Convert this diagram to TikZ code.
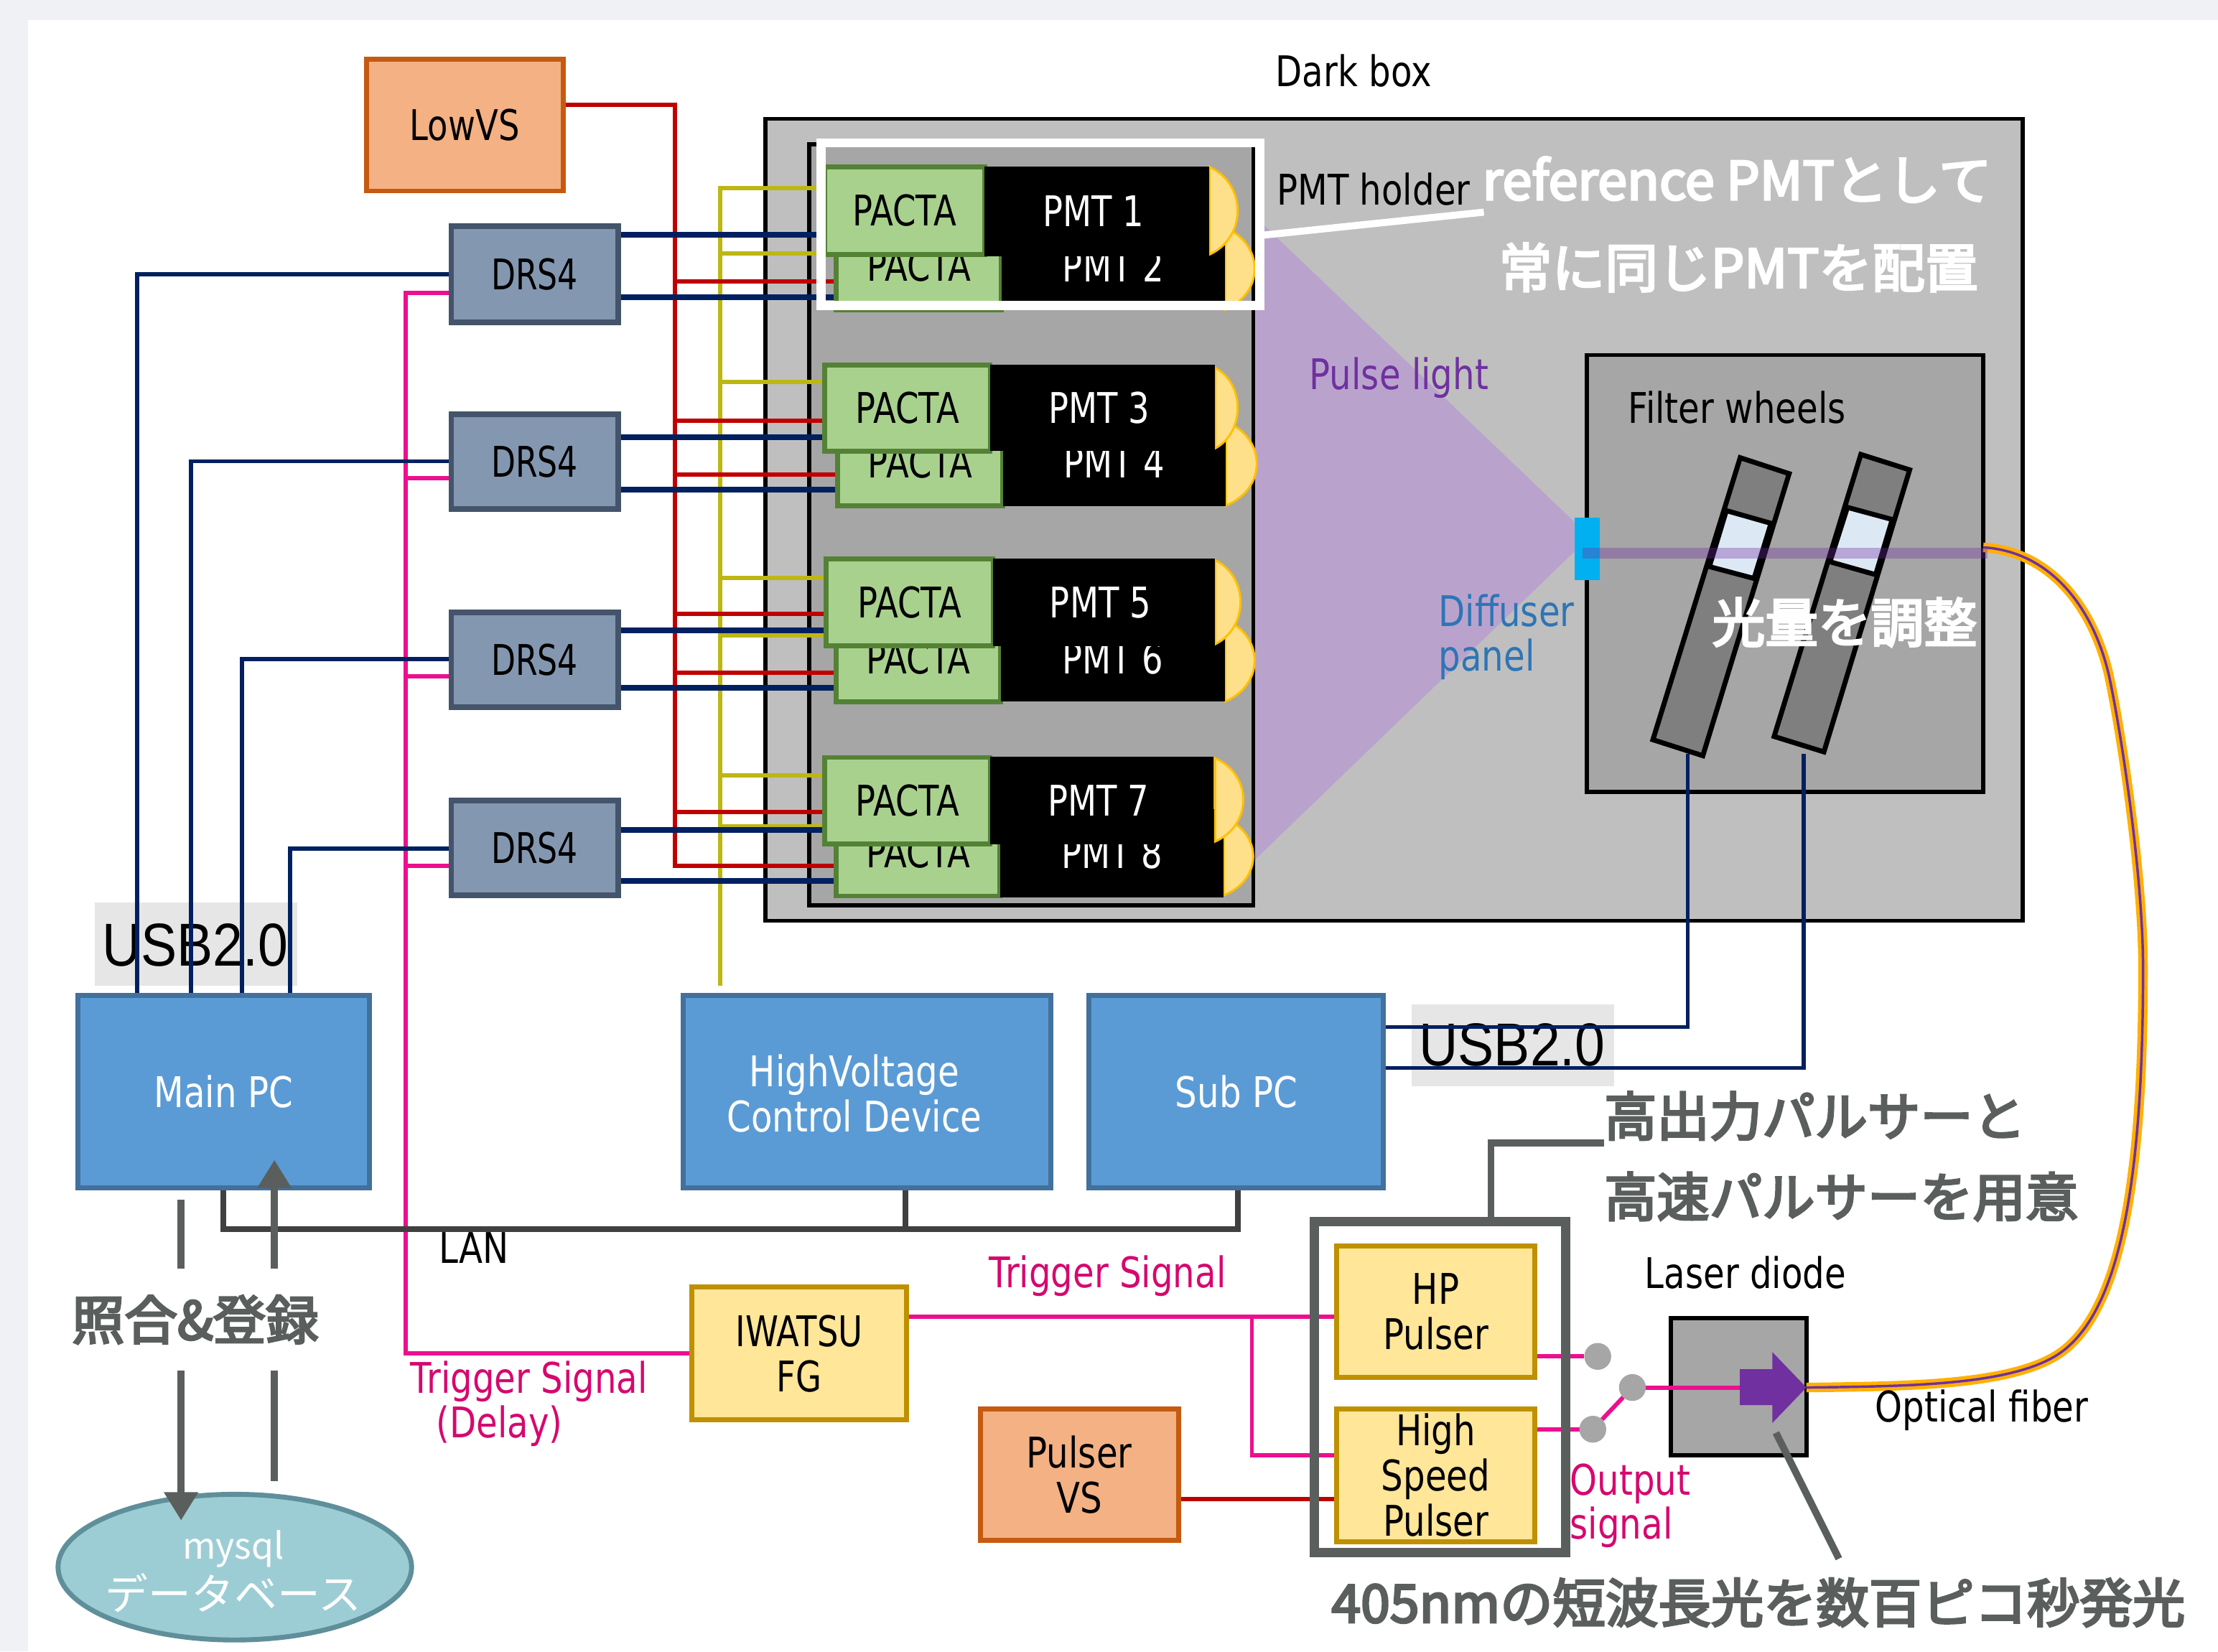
\documentclass[tikz,border=0pt]{standalone}
\usepackage{fontspec}
\setmainfont{DejaVu Sans}[FakeStretch=0.82]
\newfontfamily\narrowfont{DejaVu Sans}[FakeStretch=0.79]
\newfontfamily\drsfont{DejaVu Sans}[FakeStretch=0.75]
\newfontfamily\cjk{Noto Sans CJK JP}
\newfontfamily\cjkm{Noto Sans CJK JP}[FakeBold=4]
\newfontfamily\usbfont{Liberation Sans}[FakeStretch=0.89]
\usetikzlibrary{arrows.meta,shapes.geometric}
\pgfdeclarelayer{base}\pgfdeclarelayer{lines}\pgfdeclarelayer{top}
\pgfsetlayers{base,lines,main,top}
\definecolor{cred}{HTML}{C00000}
\definecolor{cblue}{HTML}{002060}
\definecolor{cyel}{HTML}{BDB714}
\definecolor{cpink}{HTML}{EC0F8F}
\definecolor{ctext}{HTML}{D6086F}
\definecolor{cgray}{HTML}{5A5F5E}
\definecolor{cpurple}{HTML}{7030A0}
\definecolor{hC55A11}{HTML}{C55A11}\definecolor{hF4B183}{HTML}{F4B183}
\definecolor{h44546A}{HTML}{44546A}\definecolor{h8497B0}{HTML}{8497B0}
\definecolor{h41719C}{HTML}{41719C}\definecolor{h5B9BD5}{HTML}{5B9BD5}
\definecolor{hBF9000}{HTML}{BF9000}\definecolor{hFFE699}{HTML}{FFE699}
\definecolor{h548235}{HTML}{548235}\definecolor{hA9D18E}{HTML}{A9D18E}
\definecolor{hFFC000}{HTML}{FFC000}\definecolor{hFFE08A}{HTML}{FFE08A}
\definecolor{h404040}{HTML}{404040}\definecolor{hA6A6A6}{HTML}{A6A6A6}
\definecolor{h7F7F7F}{HTML}{7F7F7F}\definecolor{hDDE8F5}{HTML}{DDE8F5}
\definecolor{hBFBFBF}{HTML}{BFBFBF}\definecolor{hE6E6E6}{HTML}{E6E6E6}
\definecolor{hpage}{HTML}{EFF1F5}\definecolor{hcone}{HTML}{B9A3CC}
\definecolor{hcyan}{HTML}{00B0F0}\definecolor{hfiber}{HTML}{FFB000}
\definecolor{hdiff}{HTML}{2E75B6}\definecolor{hdbline}{HTML}{5F8F9A}\definecolor{hdbfill}{HTML}{9DCDD4}
\tikzset{
 x=0.02cm,y=-0.02cm,
 ext/.style n args={4}{minimum width={(#3-#1)*0.02cm},minimum height={(#4-#2)*0.02cm},at={({(#1+#3)/2},{(#2+#4)/2})}},
 every node/.style={inner sep=0pt,outer sep=0pt,align=center,font=\fontsize{17}{18.2}\selectfont},
 narrowtext/.style={font=\fontsize{17}{18.2}\narrowfont},
 orangebox/.style={rectangle,draw=hC55A11,fill=hF4B183,line width=.07cm},
 drsbox/.style={rectangle,draw=h44546A,fill=h8497B0,line width=.08cm,font=\fontsize{17}{18.2}\drsfont},
 pcbox/.style={rectangle,draw=h41719C,fill=h5B9BD5,line width=.07cm,text=white},
 yelbox/.style={rectangle,draw=hBF9000,fill=hFFE699,line width=.07cm},
 pactabox/.style={rectangle,draw=h548235,fill=hA9D18E,line width=.07cm,narrowtext},
 pmtbox/.style={rectangle,fill=black,text=white,narrowtext},
 darkbox/.style={rectangle,draw=black,line width=.06cm},
 lensstyle/.style={draw=hFFC000,fill=hFFE08A,line width=.03cm},
 redw/.style={draw=cred,line width=.06cm},
 bluethin/.style={draw=cblue,line width=.055cm},
 bluethick/.style={draw=cblue,line width=.08cm},
 yelw/.style={draw=cyel,line width=.06cm},
 pinkw/.style={draw=cpink,line width=.06cm},
 lanw/.style={draw=h404040,line width=.08cm},
 leader/.style={draw=cgray,line width=.1cm},
 whiteleader/.style={draw=white,line width=.1cm},
 thickarrow/.style={draw=cgray,line width=.1cm,-{Triangle[width=.46cm,length=.4cm]}},
 note/.style={font=\fontsize{21.2}{24}\cjkm,text=cgray},
 whitenote/.style={font=\fontsize{21.3}{24}\cjkm,text=white},
 usbtext/.style={font=\fontsize{24.4}{26}\usbfont},
 pinklabel/.style={text=ctext},
 sw/.style={circle,fill=hA6A6A6,minimum size=.38cm},
 filterstrip/.style={draw=black,fill=h7F7F7F,line width=.07cm},
 filterband/.style={draw=black,fill=hDDE8F5,line width=.07cm},
}
\newcommand{\lensshape}[4]{\draw[lensstyle] (#1,#2) .. controls ({#1+1.33*#3},{#2+.2*(#4-#2)}) and ({#1+1.33*#3},{#2+.8*(#4-#2)}) .. (#1,#4) -- cycle;}
\begin{document}
\begin{tikzpicture}
\useasboundingbox (0,0) rectangle (1568,1167.5);
\begin{pgfonlayer}{base}
 \fill[hpage] (0,0) rectangle (1568,1167.5);
 \fill[white] (20,14) rectangle (1568,1167.5);
 \node[darkbox,fill=hBFBFBF,ext={541}{84}{1430}{651}] (dark) {};
 \fill[hcone] (886,152) -- (1113,369) -- (1113,390) -- (886,609) -- cycle;
 \node[darkbox,fill=hA6A6A6,ext={572}{102}{886}{640}] (holder) {};
 \node[darkbox,fill=hA6A6A6,ext={1122}{251}{1402}{560}] (filter) {};
 \draw[filterstrip] (1230.2,323.6) -- (1264.8,334.9) -- (1203.8,534.3) -- (1168.5,523) -- cycle;
 \draw[filterband] (1220.4,361) -- (1252,370) -- (1240,409) -- (1208.4,400.6) -- cycle;
 \draw[filterstrip] (1315.5,321.3) -- (1350,332.2) -- (1289.4,531.6) -- (1254.2,520.7) -- cycle;
 \draw[filterband] (1306,358.7) -- (1337.7,367.3) -- (1326,406.3) -- (1293.7,397.2) -- cycle;
 \node[rectangle,fill=hE6E6E6,ext={67}{638}{210}{697}] (usbA) {};
 \node[rectangle,fill=hE6E6E6,ext={998}{710}{1141}{768}] (usbB) {};
 \node[usbtext] (usbAtext) at (138,668) {USB2.0};
 \node[usbtext] (usbBtext) at (1069,739) {USB2.0};
 \node[darkbox,fill=hA6A6A6,ext={1181}{932}{1277}{1029}] (laser) {};
\end{pgfonlayer}

% upper boxes
\node[orangebox,narrowtext,ext={259}{42}{398}{135}] (lowvs) {LowVS};
\node[drsbox,ext={319}{160}{437}{228}] (drsA) {DRS4};
\node[drsbox,ext={319}{293}{437}{360}] (drsB) {DRS4};
\node[drsbox,ext={319}{433}{437}{500}] (drsC) {DRS4};
\node[drsbox,ext={319}{566}{437}{633}] (drsD) {DRS4};
\node[pcbox,ext={55}{704}{261}{840}] (mainpc) {Main PC};
\node[pcbox,ext={483}{704}{743}{840}] (hv) {};
\node[text=white] (hvtext) at (604,773) {HighVoltage\\Control Device};
\node[pcbox,ext={770}{704}{978}{840}] (subpc) {Sub PC};

% PMT rows (back unit first, so that the front unit covers it)
\lensshape{866}{161}{21}{219}
\node[pactabox,ext={591}{157}{708}{219}] (pa2) {PACTA};
\node[pmtbox,ext={708}{157}{866}{219}] (pm2) {PMT 2};
\lensshape{855}{118}{20}{180}
\node[pactabox,ext={583}{118}{696}{180}] (pa1) {PACTA};
\node[pmtbox,ext={696}{118}{855}{181}] (pm1) {\hspace*{-3pt}PMT 1};

\lensshape{866.5}{298}{22}{357.5}
\node[pactabox,ext={592}{296}{709}{357.5}] (pa4) {PACTA};
\node[pmtbox,ext={709}{296}{866.5}{358}] (pm4) {PMT 4};
\lensshape{859}{260}{16}{317}
\node[pactabox,ext={583}{258}{700}{319}] (pa3) {PACTA};
\node[pmtbox,ext={700}{258}{859}{319}] (pm3) {\hspace*{-3pt}PMT 3};

\lensshape{866}{438}{21}{496}
\node[pactabox,ext={591}{435}{707.5}{496}] (pa6) {PACTA};
\node[pmtbox,ext={707.5}{435}{866}{496}] (pm6) {PMT 6};
\lensshape{859}{396}{18}{455.5}
\node[pactabox,ext={584}{395}{702}{456.5}] (pa5) {PACTA};
\node[pmtbox,ext={702}{395}{859}{457}] (pm5) {\hspace*{-3pt}PMT 5};

\lensshape{865}{578}{21}{633}
\node[pactabox,ext={591}{572}{707}{633.5}] (pa8) {PACTA};
\node[pmtbox,ext={707}{572}{865}{634.5}] (pm8) {PMT 8};
\lensshape{859}{536}{20}{595}
\node[pactabox,ext={583}{535.5}{700}{596.5}] (pa7) {PACTA};
\node[pmtbox,ext={700}{535}{858}{597}] (pm7) {\hspace*{-3pt}PMT 7};

% lower boxes
\node[yelbox,narrowtext,ext={489}{910}{641}{1004}] (fg) {IWATSU\\FG};
\node[orangebox,ext={693}{996}{833}{1089}] (pulsevs) {Pulser\\VS};
\node[yelbox,ext={945}{881}{1085}{974}] (hp) {HP\\Pulser};
\node[yelbox,ext={945}{996}{1085}{1090}] (hs) {High\\Speed\\Pulser};
\node[sw] (swA) at (1129.5,959) {};
\node[sw] (swB) at (1154,981) {};
\node[sw] (swC) at (1126,1010.5) {};
\node[rectangle,fill=hcyan,ext={1113}{366}{1131}{410}] (diffuser) {};
\node[ellipse,draw=hdbline,fill=hdbfill,line width=.07cm,minimum width=5cm,minimum height=2.06cm] (db) at (166,1108) {};

% labels
\node (darklabel) at (957,50) {Dark box};
\node (holderlabel) at (971,134) {PMT holder};
\node (filterlabel) at (1228,288) {Filter wheels};
\node[text=cpurple] (pulselabel) at (989,267) {Pulse light};
\node[text=hdiff,anchor=west] (diffA) at (1017,432) {Diffuser};
\node[text=hdiff,anchor=west] (diffB) at (1017,466) {panel};
\node (lanlabel) at (335,882) {LAN};
\node[pinklabel] (trigA) at (783,902) {Trigger Signal};
\node[pinklabel] (trigB) at (374,977) {Trigger Signal};
\node[pinklabel] (trigC) at (353,1008) {(Delay)};
\node[pinklabel,anchor=west] (outA) at (1110,1049) {Output};
\node[pinklabel,anchor=west] (outB) at (1110,1080) {signal};
\node (laserlabel) at (1234,900) {Laser diode};
\node (fiberlabel) at (1401,997) {Optical fiber};
\node[text=white,font=\fontsize{14.5}{18}\cjk] (mysql) at (165,1095) {mysql};
\node[text=white,font=\fontsize{17.3}{20}\cjk] (dbtext) at (165,1126) {データベース};
\node[note,minimum height=1.44cm] (match) at (138,933) {照合\&登録};
\node[note,anchor=west] (noteA) at (1134,789) {高出力パルサーと};
\node[note,anchor=west] (noteB) at (1134,846) {高速パルサーを用意};
\node[note] (noteC) at (1243,1133) {405nmの短波長光を数百ピコ秒発光};
\node[whitenote] (refA) at (1228,127) {reference PMTとして};
\node[whitenote] (refB) at (1229,189) {常に同じPMTを配置};
\node[whitenote] (adjust) at (1304,440) {光量を調整};

% free ends of the connectors
\coordinate (redtop) at (477,74);
\coordinate (redbot) at (477,612);
\coordinate (yeltop) at (509,133);
\coordinate (yelbot) at (509,697);
\coordinate (pinktop) at (287,207);
\coordinate (pinkbot) at (287,957);
\coordinate (lanleft) at (158,869);
\coordinate (lanright) at (875,869);
\coordinate (trigbranch) at (885,931);
\coordinate (leaderbend) at (1054,808);

\begin{pgfonlayer}{lines}
 % pink trigger
 \draw[pinkw] (drsA.west |- pinktop) -- (pinktop) -- (pinkbot) -- (fg.west |- pinkbot);
 \draw[pinkw] (pinktop |- 0,338) -- (drsB.west |- 0,338);
 \draw[pinkw] (pinktop |- 0,478) -- (drsC.west |- 0,478);
 \draw[pinkw] (pinktop |- 0,612) -- (drsD.west |- 0,612);
 \draw[pinkw] (fg.east |- trigbranch) -- (hp.west |- trigbranch);
 \draw[pinkw] (trigbranch) -- (trigbranch |- 0,1029) -- (hs.west |- 0,1029);
 \draw[pinkw] (hp.east |- swA) -- (swA);
 \draw[pinkw] (hs.east |- swC) -- (swC);
 \draw[pinkw] (swC) -- (swB);
 \draw[pinkw] (swB) -- (1232,981);
 % yellow high voltage
 \draw[yelw] (yelbot) -- (yeltop) -- (pa1.west |- yeltop);
 \foreach \yy/\pp in {179/pa1,270/pa3,408.5/pa5,449/pa5,548/pa7,584/pa7}
  \draw[yelw] (yeltop |- 0,\yy) -- (\pp.west |- 0,\yy);
 % red low voltage
 \draw[redw] (lowvs.east |- redtop) -- (redtop) -- (redbot) -- (pa8.west |- redbot);
 \foreach \yy/\pp in {199/pa2,297.5/pa3,335.5/pa4,434/pa5,475.5/pa6,574/pa7}
  \draw[redw] (redtop |- 0,\yy) -- (\pp.west |- 0,\yy);
 \draw[redw] (pulsevs.east |- 0,1060) -- (hs.west |- 0,1060);
 % blue signal
 \draw[bluethick] (drsA.east |- 0,166) -- (pa1.west |- 0,166);
 \draw[bluethick] (drsA.east |- 0,210) -- (pa2.west |- 0,210);
 \draw[bluethick] (drsB.east |- 0,309) -- (pa3.west |- 0,309);
 \draw[bluethick] (drsB.east |- 0,346) -- (pa4.west |- 0,346);
 \draw[bluethick] (drsC.east |- 0,445.5) -- (pa5.west |- 0,445.5);
 \draw[bluethick] (drsC.east |- 0,486.5) -- (pa6.west |- 0,486.5);
 \draw[bluethick] (drsD.east |- 0,587) -- (pa7.west |- 0,587);
 \draw[bluethick] (drsD.east |- 0,623) -- (pa8.west |- 0,623);
 \draw[bluethin] (drsA.west |- 0,194) -- (97,194) -- (97,704);
 \draw[bluethin] (drsB.west |- 0,326) -- (135,326) -- (135,704);
 \draw[bluethin] (drsC.west |- 0,466) -- (171,466) -- (171,704);
 \draw[bluethin] (drsD.west |- 0,600) -- (205,600) -- (205,704);
 \draw[bluethin] (subpc.east |- 0,726) -- (1193,726) -- (1193,533);
 \draw[bluethin] (subpc.east |- 0,755) -- (1275,755) -- (1275,533);
 % LAN
 \draw[lanw] (mainpc.south) -- (mainpc.south |- lanleft) -- (lanright) -- (subpc.south -| lanright);
 \draw[lanw] (hv.south -| 640,0) -- (640,869);
 % fiber
 \draw[draw=hfiber,double=cpurple,double distance=.035cm,line width=.05cm]
   (laser.east |- 0,981) .. controls (1350,980) and (1430,980) .. (1461,953)
   .. controls (1500,920) and (1515,830) .. (1515,685)
   .. controls (1515,620) and (1500,520) .. (1491,478)
   .. controls (1480,430) and (1450,390) .. (filter.east |- 0,387);
\end{pgfonlayer}

% laser arrow and light beam
\fill[cpurple] (1230,968) -- (1253,968) -- (1253,956) -- (1277,981) -- (1253,1006) -- (1253,993.5) -- (1230,993.5) -- cycle;
\fill[cpurple,opacity=.35] (1119,387.5) -- (1405,387.5) -- (1405,395) -- (1119,395) -- cycle;

\begin{pgfonlayer}{top}
 \node[rectangle,draw=white,line width=.13cm,ext={580.5}{101}{890.7}{216}] (refframe) {};
 \draw[whiteleader] (refframe.east |- 0,166.5) -- (1049,150);
 \node[rectangle,draw=cgray,line width=.13cm,ext={929}{863.5}{1107}{1097.5}] (pulserframe) {};
 \draw[leader] (pulserframe.north -| leaderbend) -- (leaderbend) -- (noteA.west |- leaderbend);
 \draw[leader] (1255.5,1013) -- (1300,1102);
 \draw[draw=cgray,line width=.1cm] (128,848) -- (match.north -| 128,0);
 \draw[thickarrow] (match.south -| 128,0) -- (128,1075);
 \draw[draw=cgray,line width=.1cm] (194,1047) -- (match.south -| 194,0);
 \draw[thickarrow] (match.north -| 194,0) -- (194,820);
\end{pgfonlayer}
\end{tikzpicture}
\end{document}
